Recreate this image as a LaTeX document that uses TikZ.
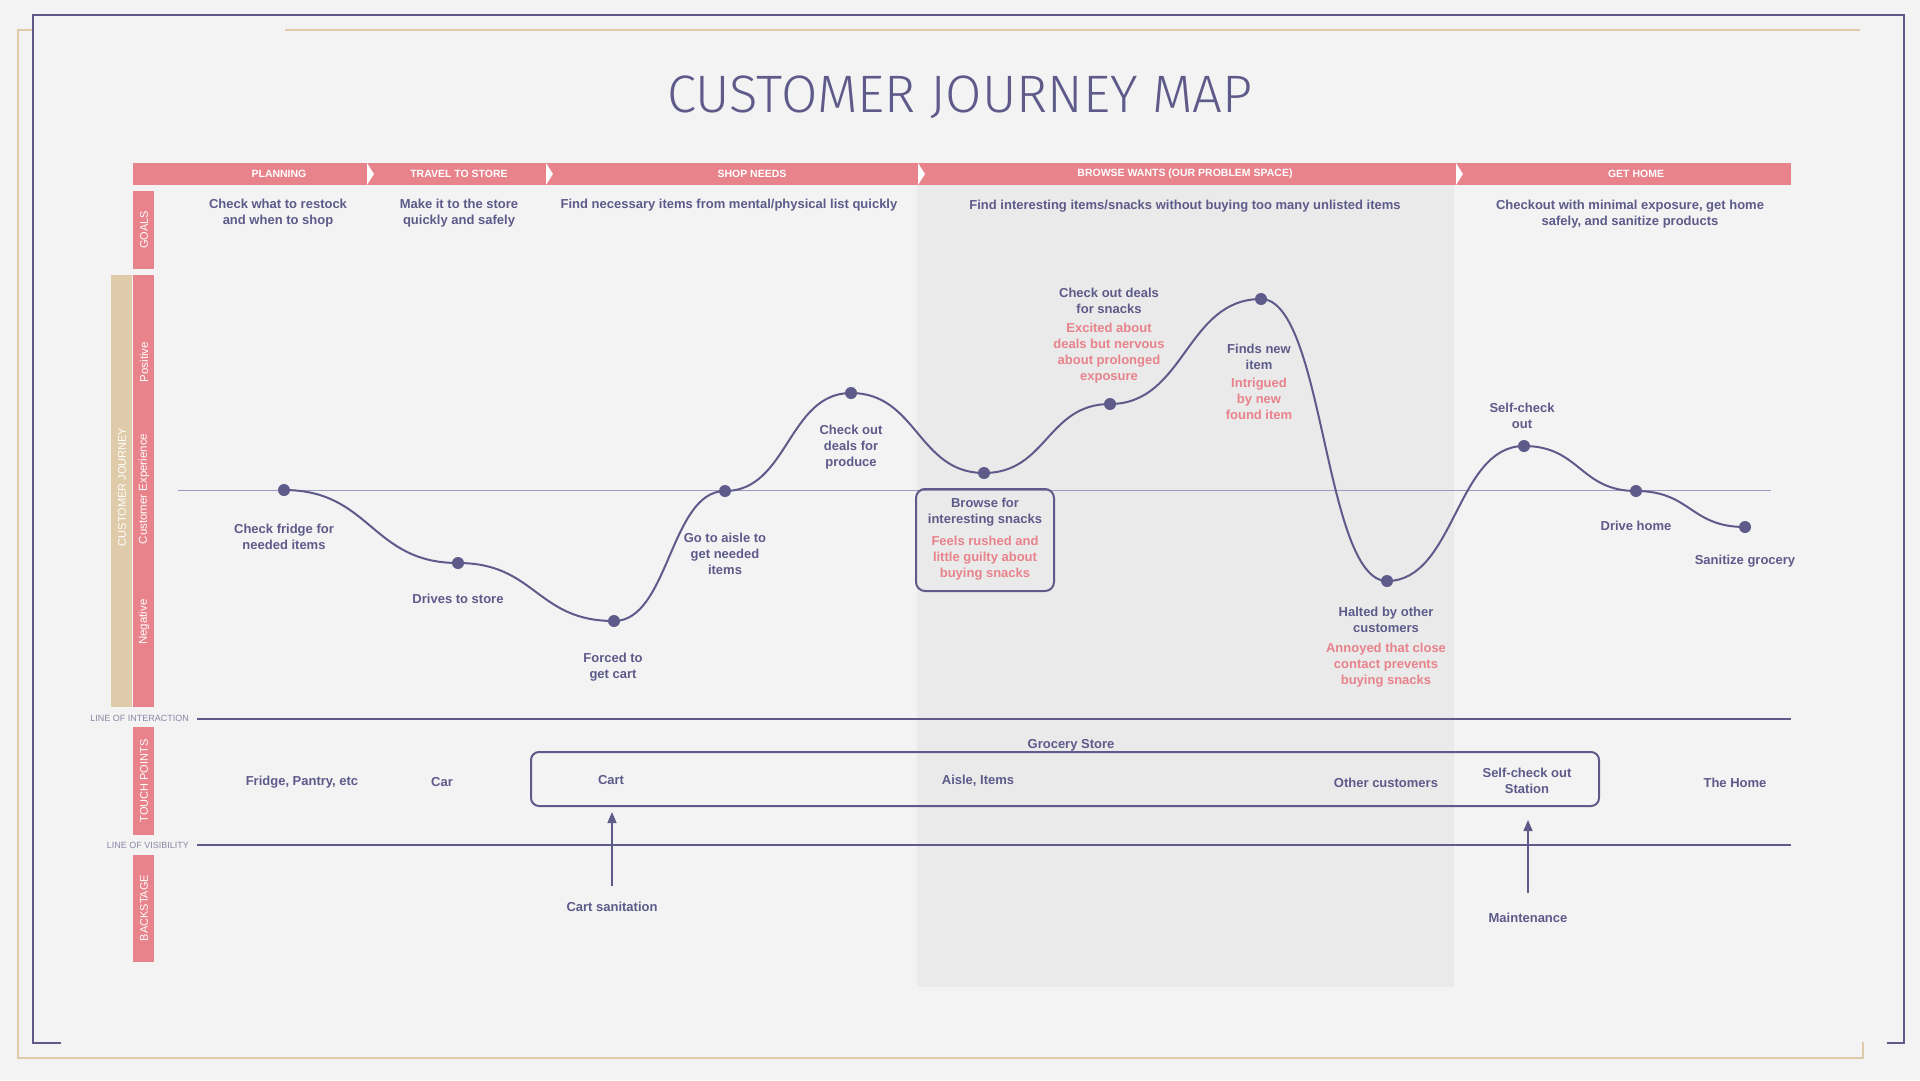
\documentclass[tikz,border=0pt]{standalone}
\usepackage{fontspec}
\setmainfont{Liberation Sans}
\IfFontExistsTF{Fira Sans Light}{\newfontfamily\titlefont{Fira Sans Light}}{\newfontfamily\titlefont{Liberation Sans}}
\usetikzlibrary{arrows.meta}
\definecolor{jbg}{HTML}{F3F3F3}
\definecolor{jshade}{HTML}{EAEAEA}
\definecolor{jpur}{HTML}{5E5A8A}
\definecolor{jpink}{HTML}{E8828B}
\definecolor{jtan}{HTML}{DFCBA9}
\definecolor{jmid}{HTML}{9D9AC0}
\definecolor{jgray}{HTML}{8A87A6}
\tikzset{
 lbl/.style={text=jpur, font=\fontsize{13}{16}\selectfont\bfseries, align=center, inner sep=0pt, yshift=-1.5pt},
 emo/.style={lbl, text=jpink},
 phase/.style={text=white, font=\fontsize{10.5}{13}\selectfont\bfseries, inner sep=0pt},
 side/.style={text=white, font=\fontsize{11}{13}\selectfont, rotate=90, inner sep=0pt},
 dot/.style={circle, fill=jpur, minimum size=12pt, inner sep=0pt},
 lineL/.style={text=jgray, font=\fontsize{9}{10}\selectfont, anchor=east, inner sep=0pt},
 sepmark/.style={fill=white},
 curve/.style={draw=jpur, line width=2pt},
 guide/.style={draw=jpur, line width=2pt},
 arr/.style={draw=jpur, line width=1.5pt, -{Triangle[length=11pt,width=9pt]}},
 framep/.style={draw=jpur, line width=2.5pt},
 framet/.style={draw=jtan, line width=2.5pt},
}
\begin{document}
\begin{tikzpicture}[x=1pt,y=-1pt]
% background
\fill[jbg] (0,0) rectangle (1920,1080);
\useasboundingbox (0,0) rectangle (1920,1080);
% shaded problem space
\fill[jshade] (917,185) rectangle (1454,987);
% frames
\draw[framet] (33,30) -- (18,30) -- (18,1058) -- (1863,1058) -- (1863,1042);
\draw[framet] (285,30) -- (1860,30);
\draw[framep] (61,1043) -- (33,1043) -- (33,15) -- (1904,15) -- (1904,1043) -- (1887,1043);
% title
\node[text=jpur, inner sep=0pt] (title) at (960,97) {\resizebox{585pt}{!}{\titlefont CUSTOMER JOURNEY MAP}};
% phase bar
\fill[jpink] (133,163) rectangle (1791,185);
\foreach \sx in {367,546,918,1456}{
  \fill[sepmark] (\sx,163) -- (\sx+7,174) -- (\sx,185) -- cycle;
}
\node[phase] (ph1) at (279,174) {PLANNING};
\node[phase] (ph2) at (459,174) {TRAVEL TO STORE};
\node[phase] (ph3) at (752,174) {SHOP NEEDS};
\node[phase] (ph4) at (1185,174) {BROWSE WANTS (OUR PROBLEM SPACE)};
\node[phase] (ph5) at (1636,174) {GET HOME};
% side bars
\fill[jpink] (133,191) rectangle (154,269);
\node[side] (sg) at (144,230) {GOALS};
\fill[jtan] (111,275) rectangle (132,707);
\node[side] (scj) at (122,487) {CUSTOMER JOURNEY};
\fill[jpink] (133,275) rectangle (154,707);
\node[side, font=\fontsize{11.5}{13}\selectfont] (spos) at (144,362) {Positive};
\node[side, font=\fontsize{11.5}{13}\selectfont] (sce) at (144,489) {Customer Experience};
\node[side, font=\fontsize{11.5}{13}\selectfont] (sneg) at (144,622) {Negative};
\fill[jpink] (133,727) rectangle (154,835);
\node[side] (stp) at (144,781) {TOUCH POINTS};
\fill[jpink] (133,855) rectangle (154,962);
\node[side] (sbs) at (144,908) {BACKSTAGE};
% goals
\node[lbl] (g1) at (278,212) {Check what to restock\\and when to shop};
\node[lbl] (g2) at (459,212) {Make it to the store\\quickly and safely};
\node[lbl] (g3) at (729,204) {Find necessary items from mental/physical list quickly};
\node[lbl] (g4) at (1185,205) {Find interesting items/snacks without buying too many unlisted items};
\node[lbl] (g5) at (1630,213) {Checkout with minimal exposure, get home\\safely, and sanitize products};
% neutral line
\coordinate (m0) at (178,490);
\coordinate (m1) at (1771,490);
\draw[jmid, line width=1pt] (m0) -- (m1);
% journey points
\coordinate (p1) at (284,490);
\coordinate (p2) at (458,563);
\coordinate (p3) at (614,621);
\coordinate (p4) at (725,491);
\coordinate (p5) at (851,393);
\coordinate (p6) at (984,473);
\coordinate (p7) at (1110,404);
\coordinate (p8) at (1261,299);
\coordinate (p9) at (1387,581);
\coordinate (p10) at (1524,446);
\coordinate (p11) at (1636,491);
\coordinate (p12) at (1745,527);
\draw[curve] (p1) .. controls +(87,0) and +(-87,0) .. (p2)
 .. controls +(78,0) and +(-78,0) .. (p3)
 .. controls +(55,0) and +(-55,0) .. (p4)
 .. controls +(63,0) and +(-63,0) .. (p5)
 .. controls +(66,0) and +(-66,0) .. (p6)
 .. controls +(63,0) and +(-63,0) .. (p7)
 .. controls +(75,0) and +(-75,0) .. (p8)
 .. controls +(63,0) and +(-63,0) .. (p9)
 .. controls +(68,0) and +(-68,0) .. (p10)
 .. controls +(56,0) and +(-56,0) .. (p11)
 .. controls +(55,0) and +(-55,0) .. (p12);
\foreach \i in {1,...,12}{ \node[dot] (d\i) at (p\i) {}; }
% journey labels
\node[lbl] (l1) at (284,535) {Check fridge for\\needed items};
\node[lbl] (l2) at (458,597) {Drives to store};
\node[lbl] (l3) at (613,666) {Forced to\\get cart};
\node[lbl] (l4) at (725,552) {Go to aisle to\\get needed\\items};
\node[lbl] (l5) at (851,446) {Check out\\deals for\\produce};
\node[draw=jpur, line width=2pt, rounded corners=9pt, minimum width=138pt, minimum height=102pt, inner sep=0pt] (bx) at (985,540) {};
\node[lbl] (l6) at (985,511) {Browse for\\interesting snacks};
\node[emo] (e6) at (985,557) {Feels rushed and\\little guilty about\\buying snacks};
\node[lbl] (l7) at (1109,299) {Check out deals\\for snacks};
\node[emo] (e7) at (1109,352) {Excited about\\deals but nervous\\about prolonged\\exposure};
\node[lbl] (l8) at (1259,355) {Finds new\\item};
\node[emo] (e8) at (1259,397) {Intrigued\\by new\\found item};
\node[lbl] (l9) at (1386,618) {Halted by other\\customers};
\node[emo] (e9) at (1386,664) {Annoyed that close\\contact prevents\\buying snacks};
\node[lbl] (l10) at (1522,414) {Self-check\\out};
\node[lbl] (l11) at (1636,524) {Drive home};
\node[lbl] (l12) at (1745,560) {Sanitize grocery};
% lines of interaction / visibility
\coordinate (li0) at (197,719);
\coordinate (li1) at (1791,719);
\draw[guide] (li0) -- (li1);
\node[lineL] (lit) at (189,718) {LINE OF INTERACTION};
\coordinate (lv0) at (197,845);
\coordinate (lv1) at (1791,845);
\draw[guide] (lv0) -- (lv1);
\node[lineL] (lvt) at (189,845) {LINE OF VISIBILITY};
% touch points
\node[draw=jpur, line width=2pt, rounded corners=8pt, minimum width=1068pt, minimum height=54pt, inner sep=0pt] (store) at (1065,779) {};
\node[lbl] (gs) at (1071,744) {Grocery Store};
\node[lbl] (t1) at (302,781) {Fridge, Pantry, etc};
\node[lbl] (t2) at (442,781) {Car};
\node[lbl] (t3) at (611,779) {Cart};
\node[lbl] (t4) at (978,779) {Aisle, Items};
\node[lbl] (t5) at (1386,781) {Other customers};
\node[lbl] (t6) at (1527,779) {Self-check out\\Station};
\node[lbl] (t7) at (1735,781) {The Home};
% backstage
\node[lbl] (cst) at (612,905) {Cart sanitation};
\node[lbl] (mt) at (1528,916) {Maintenance};
\draw[arr, shorten <=16pt, shorten >=5pt] (cst.north) -- (cst.north |- store.south);
\draw[arr, shorten <=20pt, shorten >=13pt] (mt.north) -- (mt.north |- store.south);
\end{tikzpicture}
\end{document}
